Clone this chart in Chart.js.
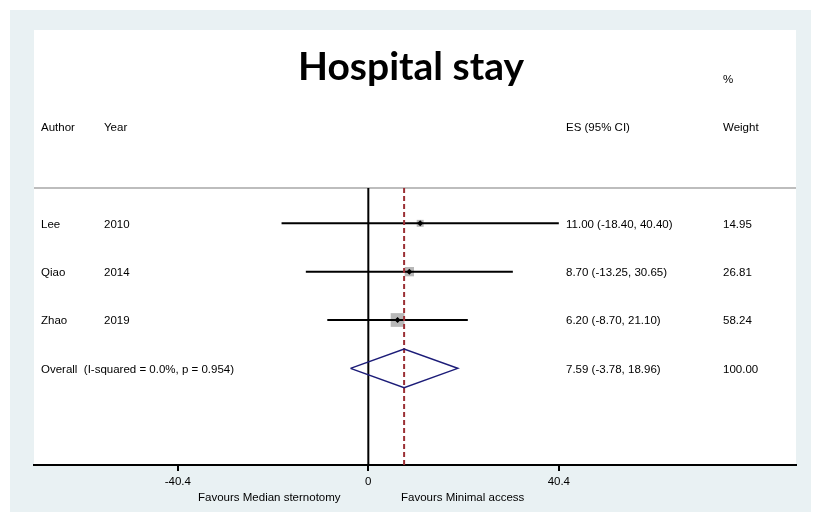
<!DOCTYPE html>
<html>
<head>
<meta charset="utf-8">
<title>Hospital stay</title>
<script src="https://cdn.jsdelivr.net/npm/chart.js@4.4.1/dist/chart.umd.min.js"></script>
<style>
  html, body { margin: 0; padding: 0; background: #ffffff; }
  #wrap { width: 813px; height: 519px; }
</style>
</head>
<body>
<div id="wrap"><canvas id="forest" width="813" height="519"></canvas></div>
<script>
// Study-level estimates (mean difference, 95% CI) and weights
const authors = ['Lee', 'Qiao', 'Zhao'];
const years = ['2010', '2014', '2019'];
const estimates = [11.00, 8.70, 6.20];
const ciLow = [-18.40, -13.25, -8.70];
const ciHigh = [40.40, 30.65, 21.10];
const weights = [14.95, 26.81, 58.24];

// Pooled estimate
const overallLabel = 'Overall  (I-squared = 0.0%, p = 0.954)';
const overallEstimate = [7.59];
const overallLow = [-3.78];
const overallHigh = [18.96];
const overallWeight = ['100.00'];

// Axis ticks and labels
const xTicks = [-40.4, 0, 40.4];
const favourLabels = ['Favours Median sternotomy', 'Favours Minimal access'];

// Row positions on the vertical scale (top row first)
const studyRows = [5, 4, 3];
const overallRow = 2;
const headerRow = 7;
const percentRow = 8;
const separatorRow = 5.73;

const X_MIN = -70.9, X_MAX = 90.7;
const TEXT_FONT = '11.5px "Liberation Sans", Arial, sans-serif';

const fmt = v => v.toFixed(2);

const datasets = [];

// separator under the header
datasets.push({
  data: [{x: X_MIN, y: separatorRow}, {x: X_MAX, y: separatorRow}],
  showLine: true, borderColor: '#bdbdbd', borderWidth: 2, pointRadius: 0, order: 10
});
// line of no effect
datasets.push({
  data: [{x: 0, y: 0}, {x: 0, y: separatorRow}],
  showLine: true, borderColor: '#000000', borderWidth: 2, pointRadius: 0, order: 9
});
// weight boxes (area proportional to weight)
datasets.push({
  data: estimates.map((v, i) => ({x: v, y: studyRows[i]})),
  pointStyle: 'rect',
  pointRadius: weights.map(w => 1.8 * Math.sqrt(w) / Math.SQRT2),
  backgroundColor: '#b8b8b8', borderWidth: 0, order: 8
});
// confidence intervals
estimates.forEach((v, i) => {
  datasets.push({
    data: [{x: ciLow[i], y: studyRows[i]}, {x: ciHigh[i], y: studyRows[i]}],
    showLine: true, borderColor: '#000000', borderWidth: 2, pointRadius: 0, order: 7
  });
});
// pooled estimate reference line
datasets.push({
  data: [{x: overallEstimate[0], y: 0}, {x: overallEstimate[0], y: separatorRow}],
  showLine: true, borderColor: '#9b2f35', borderWidth: 2, borderDash: [5, 3],
  pointRadius: 0, order: 6
});
// point estimates
datasets.push({
  data: estimates.map((v, i) => ({x: v, y: studyRows[i]})),
  pointStyle: 'rectRot', pointRadius: 3,
  backgroundColor: '#000000', borderColor: '#000000', borderWidth: 0, order: 5
});
// pooled diamond
datasets.push({
  data: [
    {x: overallLow[0], y: overallRow},
    {x: overallEstimate[0], y: overallRow + 0.4},
    {x: overallHigh[0], y: overallRow},
    {x: overallEstimate[0], y: overallRow - 0.4},
    {x: overallLow[0], y: overallRow}
  ],
  showLine: true, borderColor: '#1c1c78', borderWidth: 1.5, pointRadius: 0,
  tension: 0, order: 4
});

const panelPlugin = {
  id: 'panel',
  beforeDraw(chart) {
    const {ctx, chartArea: a} = chart;
    ctx.save();
    ctx.fillStyle = '#ffffff';
    ctx.fillRect(0, 0, chart.width, chart.height);
    ctx.fillStyle = '#e9f1f3';
    ctx.fillRect(10, 10, 801, 502);
    ctx.fillStyle = '#ffffff';
    ctx.fillRect(a.left, a.top, a.right - a.left, a.bottom - a.top);
    ctx.restore();
  },
  afterDraw(chart) {
    const {ctx, chartArea: a, scales: {x, y}} = chart;
    ctx.save();
    ctx.fillStyle = '#000000';

    // title
    ctx.font = 'bold 39px Lato, "Open Sans", sans-serif';
    ctx.textAlign = 'center';
    ctx.textBaseline = 'alphabetic';
    ctx.fillText('Hospital stay', 411, 80);

    // columns
    ctx.font = TEXT_FONT;
    ctx.textAlign = 'left';
    ctx.textBaseline = 'middle';
    const colAuthor = a.left + 7, colYear = a.left + 70, colEs = 566, colW = 723;
    const dy = 1;

    ctx.fillText('%', colW, y.getPixelForValue(percentRow) + dy);
    const hy = y.getPixelForValue(headerRow) + dy;
    ctx.fillText('Author', colAuthor, hy);
    ctx.fillText('Year', colYear, hy);
    ctx.fillText('ES (95% CI)', colEs, hy);
    ctx.fillText('Weight', colW, hy);

    authors.forEach((name, i) => {
      const ry = y.getPixelForValue(studyRows[i]) + dy;
      ctx.fillText(name, colAuthor, ry);
      ctx.fillText(years[i], colYear, ry);
      ctx.fillText(`${fmt(estimates[i])} (${fmt(ciLow[i])}, ${fmt(ciHigh[i])})`, colEs, ry);
      ctx.fillText(fmt(weights[i]), colW, ry);
    });

    const oy = y.getPixelForValue(overallRow) + dy;
    ctx.fillText(overallLabel, colAuthor, oy);
    ctx.fillText(`${fmt(overallEstimate[0])} (${fmt(overallLow[0])}, ${fmt(overallHigh[0])})`, colEs, oy);
    ctx.fillText(overallWeight[0], colW, oy);

    // favours labels under the axis
    ctx.textAlign = 'center';
    ctx.fillText(favourLabels[0], x.getPixelForValue(-21), 498);
    ctx.fillText(favourLabels[1], x.getPixelForValue(20), 498);
    ctx.restore();
  }
};

new Chart(document.getElementById('forest'), {
  type: 'scatter',
  data: { datasets },
  options: {
    responsive: false,
    animation: false,
    events: [],
    layout: { padding: { left: 34, right: 17, top: 30, bottom: 0 } },
    plugins: { legend: { display: false }, tooltip: { enabled: false }, title: { display: false } },
    scales: {
      x: {
        type: 'linear', min: X_MIN, max: X_MAX,
        afterBuildTicks: s => { s.ticks = xTicks.map(v => ({value: v})); },
        afterFit: s => { s.height = 54; },
        border: { display: true, color: '#000000', width: 2 },
        grid: { drawOnChartArea: false, drawTicks: true, tickLength: 6, color: '#000000', lineWidth: 2 },
        ticks: {
          color: '#000000', padding: 4, maxRotation: 0, autoSkip: false,
          font: { family: '"Liberation Sans", Arial, sans-serif', size: 11.5 },
          callback: v => String(v)
        }
      },
      y: { type: 'linear', min: 0, max: 9, display: false }
    }
  },
  plugins: [panelPlugin]
});
</script>
</body>
</html>
